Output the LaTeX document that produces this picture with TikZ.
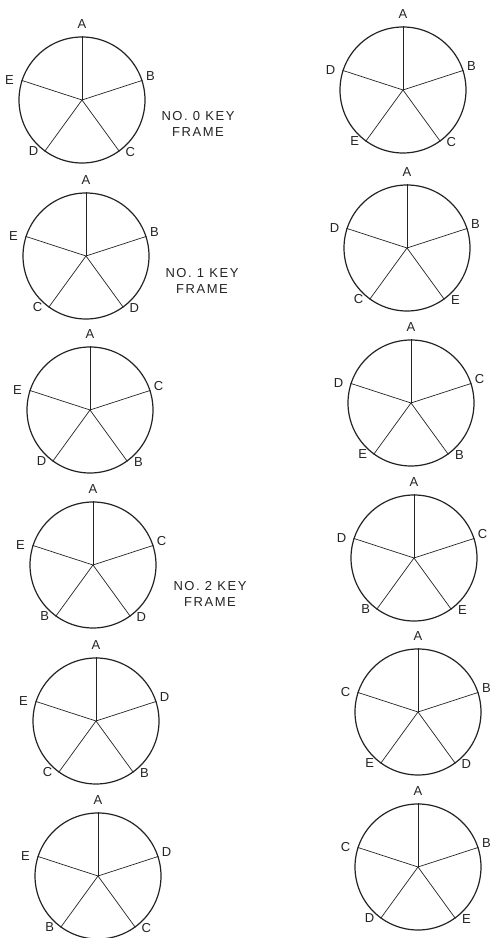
\documentclass[tikz,border=0pt]{standalone}
\usepackage{fontspec}
\setmainfont{Liberation Sans}
\newfontfamily\keyfont[LetterSpace=12]{Liberation Sans}
\usetikzlibrary{calc}
\definecolor{InkBlack}{RGB}{35,35,35}
\tikzset{
  wheel/.style    ={circle, draw=InkBlack, line width=1.2pt, minimum size=126pt, inner sep=0pt},
  spoke/.style    ={draw=InkBlack, line width=.7pt},
  spokelbl/.style ={text=InkBlack, font=\fontsize{13}{13}\selectfont, inner sep=0pt},
  keytext/.style  ={text=InkBlack, align=center, font=\keyfont\fontsize{13}{16}\selectfont, inner sep=0pt},
}

\begin{document}
\begin{tikzpicture}[x=1pt,y=1pt]
  \useasboundingbox (0,0) rectangle (492,938);
  \foreach \n/\x/\y/\la/\lb/\lc/\ld/\le in {1/82/838/A/B/C/D/E, 2/403/848/A/B/C/E/D,
      3/86/682/A/B/D/C/E, 4/407/690/A/B/E/C/D, 5/90/528/A/C/B/D/E, 6/411/535/A/C/B/E/D,
      7/93/373/A/C/D/B/E, 8/414/380/A/C/E/B/D, 9/96/217/A/D/B/C/E, 10/418/226/A/B/D/E/C,
      11/98/62/A/D/C/B/E, 12/418/71/A/B/E/D/C}{
    \node[wheel] (w\n) at (\x,\y) {};
    \foreach \ang/\dx/\dy/\t in {90/0/12/\la,18/8/4/\lb,306/11/-1/\lc,234/-11/0/\ld,162/-12/0/\le}{
      \draw[spoke] (w\n.center) -- (w\n.\ang);
      \node[spokelbl] (w\n-\t) at ($(w\n.\ang)+(\dx,\dy)$) {\t};
    }
  }
  \node[keytext] (key0) at (198,814) {NO. 0 KEY\\FRAME};
  \node[keytext] (key1) at (202,657) {NO. 1 KEY\\FRAME};
  \node[keytext] (key2) at (210,344) {NO. 2 KEY\\FRAME};
\end{tikzpicture}
\end{document}
